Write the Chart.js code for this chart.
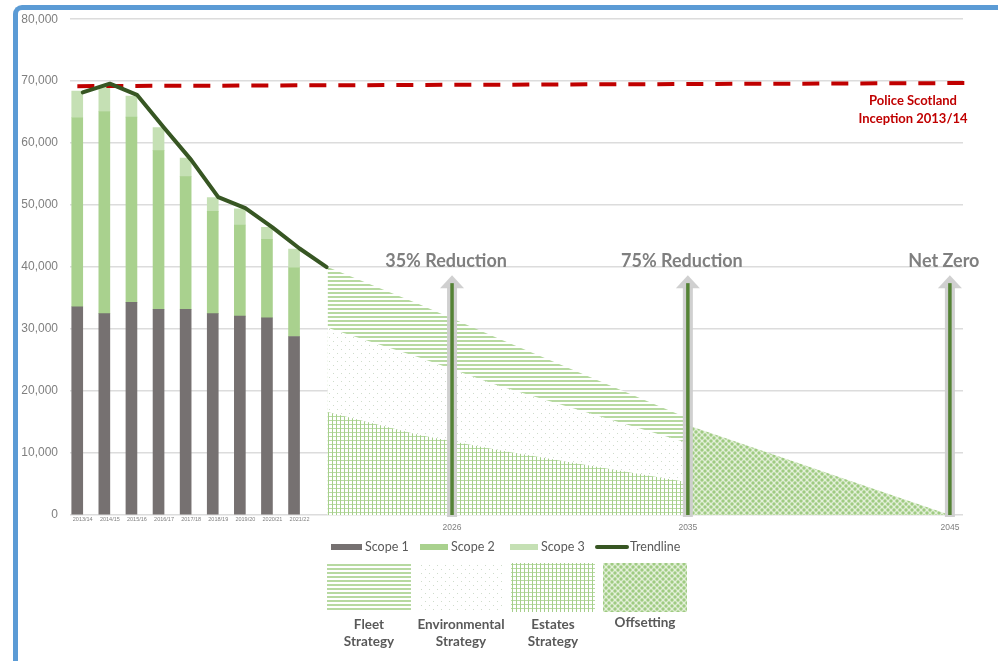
<!DOCTYPE html>
<html>
<head>
<meta charset="utf-8">
<script src="https://cdn.jsdelivr.net/npm/chart.js@4.4.0/dist/chart.umd.min.js"></script>
<style>
  html, body { margin: 0; padding: 0; background: #fff; }
  #wrap { position: relative; width: 998px; height: 661px; overflow: hidden; }
  #frame { position: absolute; left: 13px; top: 5px; width: 1000px; height: 700px;
           border-left: 5px solid #5b9bd5; border-top: 5px solid #5b9bd5; border-top-left-radius: 9px; }
  canvas { position: absolute; left: 0; top: 0; }
</style>
</head>
<body>
<div id="wrap">
  <div id="frame"></div>
  <canvas id="c" width="998" height="661"></canvas>
</div>
<script>
// Emissions (tCO2e) by financial year
const fiscalYears = ['2013/14','2014/15','2015/16','2016/17','2017/18','2018/19','2019/20','2020/21','2021/22'];
const scope1 = [33600, 32500, 34300, 33200, 33200, 32500, 32100, 31800, 28800];
const scope2 = [30500, 32600, 29900, 25600, 21400, 16500, 14700, 12700, 11100];
const scope3 = [4300, 4100, 3400, 3700, 3000, 2200, 2600, 1900, 3000];
// trend through the annual totals, ending at the start of the pathway
const trendline = [68200, 69600, 67800, 62500, 57300, 51300, 49500, 46400, 43000, 40000];

// Pathway to net zero (calendar years)
const pathwayYears = [2021.25, 2024.75, 2027.75, 2035];
const fleetTop     = [40000, 34000, 28500, 15600];
const envTop       = [30200, 25400, 20900, 11600];
const estatesTop   = [16600, 12900, 10500, 5300];
const offsetYears  = [2035, 2045];
const offsetTop    = [14500, 0];

// Milestones
const milestoneYears  = [2026, 2035, 2045];
const milestoneLabels = ['35% Reduction', '75% Reduction', 'Net Zero'];

// Baseline at inception
const inceptionYears = [2011.7, 2045.9];
const inceptionLevel = [69200, 69700];
const inceptionLabel = ['Police Scotland', 'Inception 2013/14'];

// Key
const scopeKeyLabels   = ['Scope 1', 'Scope 2', 'Scope 3', 'Trendline'];
const strategyKeyLines = [['Fleet', 'Strategy'], ['Environmental', 'Strategy'], ['Estates', 'Strategy'], ['Offsetting']];

const C_SCOPE1 = '#767171', C_SCOPE2 = '#a9d18e', C_SCOPE3 = '#c5e0b4';
const C_TREND = '#375623', C_RED = '#c00000', C_TEXT = '#595959', C_AXIS = '#7f7f7f';
const ARROW_TIP = 38700;

const canvas = document.getElementById('c');
const ctx0 = canvas.getContext('2d');

function tile(w, h, draw) {
  const t = document.createElement('canvas');
  t.width = w; t.height = h;
  const g = t.getContext('2d');
  g.fillStyle = '#ffffff'; g.fillRect(0, 0, w, h);
  draw(g);
  return ctx0.createPattern(t, 'repeat');
}
const fleetPattern = tile(1, 4, g => { g.fillStyle = '#b7d9a1'; g.fillRect(0, 0, 1, 2); });
const envPattern = tile(8, 8, g => {
  g.fillStyle = '#cfdccb';
  g.fillRect(1, 1, 1, 1); g.fillRect(5, 5, 1, 1);
});
const estatesPattern = tile(4, 4, g => {
  g.fillStyle = '#b9dba4'; g.fillRect(0, 0, 4, 1);
  g.fillStyle = '#a6cf8b'; g.fillRect(0, 0, 1, 4);
});
const offsetPattern = tile(6, 6, g => {
  g.fillStyle = '#e4f0da'; g.fillRect(0, 0, 6, 6);
  g.fillStyle = '#9fcb82';
  [[0,0],[6,0],[0,6],[6,6],[3,3]].forEach(([x, y]) => { g.beginPath(); g.arc(x, y, 1.7, 0, Math.PI * 2); g.fill(); });
});

const fmt = v => String(v).replace(/\B(?=(\d{3})+(?!\d))/g, ',');

const areaDataset = (label, xs, ys, pattern, order) => ({
  type: 'line', label, xAxisID: 'yr', yAxisID: 'y', stack: label,
  data: xs.map((x, i) => ({ x, y: ys[i] })),
  fill: 'origin', backgroundColor: pattern,
  borderColor: 'rgba(0,0,0,0)', borderWidth: 0, pointRadius: 0, tension: 0, order
});

// milestone arrows, labels, inception note
const annotations = {
  id: 'milestones',
  afterDatasetsDraw(chart) {
    const { ctx } = chart;
    const xs = chart.scales.yr, ys = chart.scales.y;
    const base = ys.getPixelForValue(0);
    const tip = ys.getPixelForValue(ARROW_TIP);
    ctx.save();
    milestoneYears.forEach((yr, i) => {
      const x = xs.getPixelForValue(yr);
      ctx.fillStyle = 'rgba(205,205,205,0.95)';
      ctx.fillRect(x - 5, tip + 12, 10, base - tip - 10);
      ctx.beginPath();
      ctx.moveTo(x, tip); ctx.lineTo(x + 12, tip + 13); ctx.lineTo(x - 12, tip + 13); ctx.closePath();
      ctx.fill();
      ctx.strokeStyle = '#548235'; ctx.lineWidth = 3.5;
      ctx.beginPath(); ctx.moveTo(x, tip + 8); ctx.lineTo(x, base); ctx.stroke();
      ctx.font = 'bold 18px Lato';
      ctx.fillStyle = C_AXIS; ctx.textAlign = 'center'; ctx.textBaseline = 'alphabetic';
      ctx.fillText(milestoneLabels[i], x - 6, tip - 8);
    });
    const ly = ys.getPixelForValue(inceptionLevel[1]);
    ctx.font = 'bold 13px Lato'; ctx.fillStyle = C_RED; ctx.textAlign = 'center'; ctx.textBaseline = 'middle';
    inceptionLabel.forEach((t, i) => ctx.fillText(t, chart.chartArea.right - 50, ly + 18 + i * 18));
    ctx.restore();
  }
};

// two-row key below the axis
const keyRows = {
  id: 'keyRows',
  afterDraw(chart) {
    const { ctx } = chart;
    ctx.save();
    const y1 = 547;
    const swatchX = [331, 420, 510, 597];
    const swatchW = [31, 28, 28, 30];
    const fills = [C_SCOPE1, C_SCOPE2, C_SCOPE3];
    ctx.font = '12.5px Lato'; ctx.textBaseline = 'middle'; ctx.textAlign = 'left';
    scopeKeyLabels.forEach((t, i) => {
      const x = swatchX[i];
      if (i < 3) {
        ctx.fillStyle = fills[i]; ctx.fillRect(x, y1 - 3, swatchW[i], 6);
      } else {
        ctx.strokeStyle = C_TREND; ctx.lineWidth = 4; ctx.lineCap = 'round';
        ctx.beginPath(); ctx.moveTo(x, y1); ctx.lineTo(x + swatchW[i], y1); ctx.stroke();
      }
      ctx.fillStyle = C_TEXT;
      ctx.fillText(t, x + swatchW[i] + 3, y1);
    });
    const patterns = [fleetPattern, envPattern, estatesPattern, offsetPattern];
    ctx.font = 'bold 13.5px Lato'; ctx.textAlign = 'center';
    strategyKeyLines.forEach((lines, i) => {
      const bx = 327 + i * 92;
      ctx.fillStyle = patterns[i]; ctx.fillRect(bx, 563, 84, 49);
      ctx.fillStyle = C_TEXT;
      lines.forEach((t, j) => ctx.fillText(t, bx + 42, (lines.length === 1 ? 623 : 625) + j * 17));
    });
    ctx.restore();
  }
};

new Chart(canvas, {
  type: 'bar',
  data: {
    datasets: [
      { type: 'bar', label: 'Scope 1', xAxisID: 'x', yAxisID: 'y', backgroundColor: C_SCOPE1,
        data: scope1.map((v, i) => ({ x: i, y: v })), barThickness: 11, order: 3 },
      { type: 'bar', label: 'Scope 2', xAxisID: 'x', yAxisID: 'y', backgroundColor: C_SCOPE2,
        data: scope2.map((v, i) => ({ x: i, y: v })), barThickness: 11, order: 3 },
      { type: 'bar', label: 'Scope 3', xAxisID: 'x', yAxisID: 'y', backgroundColor: C_SCOPE3,
        data: scope3.map((v, i) => ({ x: i, y: v })), barThickness: 11, order: 3 },
      { type: 'line', label: 'Trendline', xAxisID: 'x', yAxisID: 'y', stack: 'trend',
        data: trendline.map((v, i) => ({ x: i, y: v })),
        borderColor: C_TREND, borderWidth: 4, pointRadius: 0, tension: 0, fill: false, order: 0,
        borderCapStyle: 'round', borderJoinStyle: 'round' },
      { type: 'line', label: 'Inception', xAxisID: 'yr', yAxisID: 'y', stack: 'inception',
        data: inceptionYears.map((x, i) => ({ x, y: inceptionLevel[i] })),
        borderColor: C_RED, borderWidth: 4, borderDash: [17, 12], pointRadius: 0, fill: false, order: 1, clip: false },
      areaDataset('Fleet Strategy', pathwayYears, fleetTop, fleetPattern, 7),
      areaDataset('Environmental Strategy', pathwayYears, envTop, envPattern, 6),
      areaDataset('Estates Strategy', pathwayYears, estatesTop, estatesPattern, 5),
      areaDataset('Offsetting', offsetYears, offsetTop, offsetPattern, 5)
    ]
  },
  options: {
    responsive: false,
    animation: false,
    devicePixelRatio: 1,
    layout: { padding: { left: 0, right: 35, top: 17, bottom: 124 } },
    plugins: { legend: { display: false }, tooltip: { enabled: false } },
    scales: {
      x: {
        type: 'linear', position: 'bottom', weight: 0, min: -0.47, max: 32.48, offset: false, stacked: true,
        grid: { display: false, drawTicks: false }, border: { display: false },
        afterBuildTicks: s => { s.ticks = fiscalYears.map((_, i) => ({ value: i })); },
        ticks: { callback: v => fiscalYears[v] || '', font: { size: 5.5 }, color: C_AXIS,
                 padding: 1.5, autoSkip: false, maxRotation: 0, minRotation: 0 },
        afterFit: s => { s.height = 8; }
      },
      yr: {
        type: 'linear', position: 'bottom', weight: 1, min: 2011.42, max: 2045.5, offset: false,
        grid: { display: false, drawTicks: false }, border: { display: false },
        afterBuildTicks: s => { s.ticks = milestoneYears.map(v => ({ value: v })); },
        ticks: { callback: v => String(v), font: { size: 8.5 }, color: C_AXIS,
                 padding: 0, autoSkip: false, maxRotation: 0, minRotation: 0 },
        afterFit: s => { s.height = 14; }
      },
      y: {
        stacked: true, min: 0, max: 80000,
        grid: { color: '#dcdcdc', lineWidth: 1.5, drawTicks: false }, border: { display: false },
        ticks: { stepSize: 10000, callback: v => fmt(v), font: { size: 12 }, color: C_AXIS, padding: 12 },
        afterFit: s => { s.width = 70; }
      }
    }
  },
  plugins: [annotations, keyRows]
});
</script>
</body>
</html>
